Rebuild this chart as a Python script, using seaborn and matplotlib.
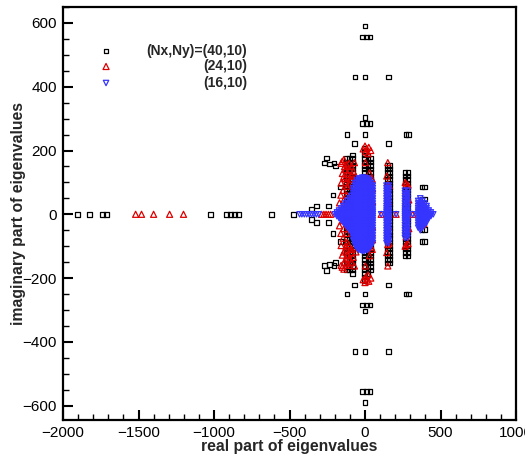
import matplotlib
matplotlib.use("Agg")
import matplotlib.pyplot as plt
import numpy as np
import pandas as pd
import seaborn as sns
from matplotlib.ticker import MultipleLocator

# ------------------------------------------------------------------
# Eigenvalue spectra for three grid resolutions.
# Eigenvalues of a real operator come in conjugate pairs, so for the
# complex ones only Im > 0 is listed and the mirror image is added.
# ------------------------------------------------------------------
LABELS = ["(Nx,Ny)=(40,10)", "(24,10)", "(16,10)"]

# ---- (Nx,Ny)=(40,10) ----
RE40_REAL_AXIS = [-1903, -1824, -1738, -1711, -1023, -917, -890, -864, -837, -619, -473]
RE40_PAIR = [-356, -323, -240, -213, -162, -268, -253, -235, -206, -195,
             -118, -70, 0, -18, 8, 34, -66, 0, 156, 0, -18, 8, 34,
             0, 272, 289, 156, 378, 395, 378, 395]
IM40_PAIR = [16, 26, 26, 60, 86, 161, 176, 158, 161, 152,
             250, 222, 590, 556, 556, 556, 431, 431, 431, 303, 285, 285, 285,
             250, 250, 250, 222, 86, 86, 48, 48]
# densely packed vertical branches: real part and highest Im of each branch
RE40_BRANCH = [-124, -104, -84, -2, 20, 38, 148, 164, 266, 284]
TOP40_BRANCH = [175, 175, 186, 208, 186, 175, 153, 153, 131, 131]
IM40_LEVELS = [0, 10, 21, 32, 43, 54, 65, 76, 87, 98, 109, 120, 131,
               142, 153, 164, 175, 186, 197, 208]

# ---- (24,10) ----
RE24_REAL_AXIS = [-1519, -1480, -1400, -1294, -1202, -287, -272, -258, -243, -228,
                  107, 206, 316]
RE24_PAIR = [-12, 0, 12, 25, 38, 5, 20,
             -151, -140, -158, -70, 3, -118, -140, -126, -108, -158, -145,
             -169, -150, -120, -100, -88,
             -135, -120, -105, -90, -128, -112, -95, -150, -132, -118, -160,
             -140, -78, -60,
             41, 30, 45, 50, 50, 48, -86,
             151, 151, 160, 144, 156,
             273, 285, 273, 266, 290,
             370, 380, 390, 362, 376]
IM24_PAIR = [205, 214, 206, 210, 200, 196, 190,
             166, 172, 160, 162, 162, 130, 118, 100, 95, 98, 75,
             36, 20, 60, 140, 120,
             150, 155, 160, 150, 140, 125, 110, 128, 112, 88, 60,
             45, 135, 118,
             103, 130, 60, 40, 80, 110, 110,
             162, 95, 90, 120, 40,
             95, 92, 70, 100, 45,
             35, 32, 28, 22, 12]

# ---- (16,10) ----
RE16_REAL_AXIS = [-433, -418, -402, -386, -370, -354, -338, -322, -306, -200,
                  107, 206, 316, 440, 452]
RE16_BRANCH = [-186, -172, -158, -144, -130, -116, -102,
               -90, -78, -66, -54, -42, -30, -18, -6, 6, 18, 30, 42, 52,
               142, 158, 264, 282,
               352, 366, 380, 394, 408, 422, 436]
TOP16_BRANCH = [6, 12, 19, 26, 34, 42, 50,
                60, 85, 100, 108, 112, 114, 115, 115, 114, 113, 110, 104, 92,
                95, 95, 78, 78,
                42, 50, 48, 38, 26, 14, 6]
IM16_LEVELS = [0, 6, 12, 19, 26, 34, 42, 50, 58, 66, 74, 82, 90, 98, 106, 112, 115]


def spectrum(real_axis, pair_re, pair_im, branch_re, branch_top, levels):
    re, im = list(real_axis), [0.0] * len(real_axis)
    for r, i in zip(pair_re, pair_im):
        re += [r, r]
        im += [i, -i]
    for r, top in zip(branch_re, branch_top):
        for lv in levels:
            if lv > top:
                break
            if lv == 0:
                re.append(r)
                im.append(0.0)
            else:
                re += [r, r]
                im += [lv, -lv]
    return re, im


frames = []
for lab, args in zip(LABELS, [
        (RE40_REAL_AXIS, RE40_PAIR, IM40_PAIR, RE40_BRANCH, TOP40_BRANCH, IM40_LEVELS),
        (RE24_REAL_AXIS, RE24_PAIR, IM24_PAIR, [], [], []),
        (RE16_REAL_AXIS, [], [], RE16_BRANCH, TOP16_BRANCH, IM16_LEVELS)]):
    re, im = spectrum(*args)
    frames.append(pd.DataFrame({"re": re, "im": im, "grid": lab}))
df = pd.concat(frames, ignore_index=True)

COLORS = ["#000000", "#dd0000", "#3535ff"]
MARKERS = ["s", "^", "v"]
SIZES = [11, 19, 15]

sns.set_style("ticks")
plt.rcParams["font.family"] = ["Liberation Sans", "DejaVu Sans"]

fig = plt.figure(figsize=(5.25, 4.54), dpi=100)
ax = fig.add_axes([63 / 525, 1 - 420 / 454, 453 / 525, 413 / 454])

for lab, c, m, s in zip(LABELS, COLORS, MARKERS, SIZES):
    sub = df[df["grid"] == lab]
    sns.scatterplot(data=sub, x="re", y="im", ax=ax, marker=m, s=s,
                    facecolors="none", edgecolor=c, linewidth=0.9, legend=False)

ax.set_xlim(-2000, 1000)
ax.set_ylim(-645, 650)
ax.xaxis.set_major_locator(MultipleLocator(500))
ax.xaxis.set_minor_locator(MultipleLocator(100))
ax.yaxis.set_major_locator(MultipleLocator(200))
ax.yaxis.set_minor_locator(MultipleLocator(50))
ax.tick_params(which="both", direction="in", top=False, right=False,
               labelsize=11, pad=4.5, colors="black")
ax.tick_params(which="major", length=7.5, width=1.5)
ax.tick_params(which="minor", length=4.5, width=1.0)
for sp in ax.spines.values():
    sp.set_linewidth(1.6)
    sp.set_color("black")
    sp.set_visible(True)

ax.set_xlabel("real part of eigenvalues", fontsize=11.3, fontweight="bold", labelpad=-1)
ax.set_ylabel("imaginary part of eigenvalues", fontsize=11.3, fontweight="bold", labelpad=-2.5)

# legend block: marker on the left, right-aligned series text
leg_y = [0.893, 0.856, 0.816]
for lab, c, m, s, y in zip(LABELS, COLORS, MARKERS, SIZES, leg_y):
    ax.scatter([0.095], [y], transform=ax.transAxes, marker=m, s=s,
               facecolors="none", edgecolors=c, linewidths=0.9, clip_on=False)
    ax.text(0.406, y, lab, transform=ax.transAxes, ha="right", va="center",
            fontsize=10, fontweight="bold")

fig.savefig("out.png", dpi=100)
